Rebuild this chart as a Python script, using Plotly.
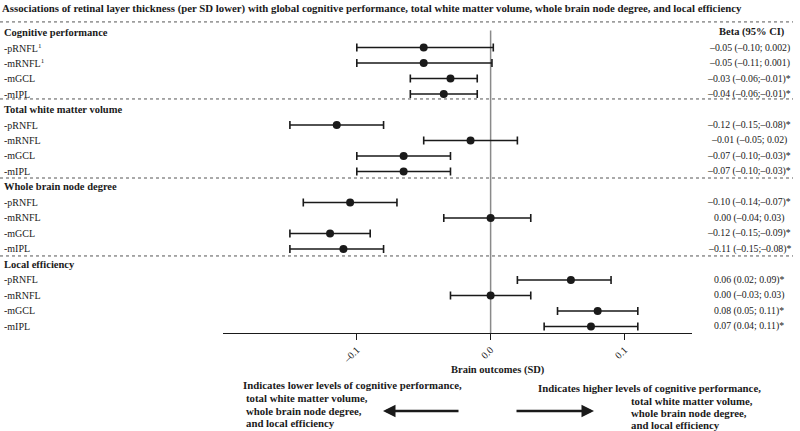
import plotly.graph_objects as go

# ── Data ────────────────────────────────────────────────────────────────
groups = ["Cognitive performance", "Total white matter volume",
          "Whole brain node degree", "Local efficiency"]
layers = ["-pRNFL<sup>1</sup>", "-mRNFL<sup>1</sup>", "-mGCL", "-mIPL",
          "-pRNFL", "-mRNFL", "-mGCL", "-mIPL",
          "-pRNFL", "-mRNFL", "-mGCL", "-mIPL",
          "-pRNFL", "-mRNFL", "-mGCL", "-mIPL"]
beta = [-0.05, -0.05, -0.03, -0.035,
        -0.115, -0.015, -0.065, -0.065,
        -0.105, 0.0, -0.12, -0.11,
        0.06, 0.0, 0.08, 0.075]
ci_lo = [-0.10, -0.10, -0.06, -0.06,
         -0.15, -0.05, -0.10, -0.10,
         -0.14, -0.035, -0.15, -0.15,
         0.02, -0.03, 0.05, 0.04]
ci_hi = [0.002, 0.001, -0.01, -0.01,
         -0.08, 0.02, -0.03, -0.03,
         -0.07, 0.03, -0.09, -0.08,
         0.09, 0.03, 0.11, 0.11]
beta_txt = ["–0.05 (–0.10; 0.002)", "–0.05 (–0.11; 0.001)",
            "–0.03 (–0.06;–0.01)*", "–0.04 (–0.06;–0.01)*",
            "–0.12 (–0.15;–0.08)*", "–0.01 (–0.05; 0.02)",
            "–0.07 (–0.10;–0.03)*", "–0.07 (–0.10;–0.03)*",
            "–0.10 (–0.14;–0.07)*", "0.00 (–0.04; 0.03)",
            "–0.12 (–0.15;–0.09)*", "–0.11 (–0.15;–0.08)*",
            "0.06 (0.02; 0.09)*", "0.00 (–0.03; 0.03)",
            "0.08 (0.05; 0.11)*", "0.07 (0.04; 0.11)*"]
tick_vals = [-0.1, 0.0, 0.1]
tick_text = ["–0.1", "0.0", "0.1"]

# row slots: each group = header + 4 rows
rows = [5 * (i // 4) + (i % 4) + 1 for i in range(len(beta))]
headers = [5 * g for g in range(len(groups))]

W, H = 800, 431
L, R, T, B = 223, 108, 22, 98
YTOP, YBOT = -0.645, 19.42


def px(x):  # pixel -> paper x
    return (x - L) / (W - L - R)


def py(y):  # pixel -> paper y
    return (H - B - y) / (H - T - B)


def slot_py(s):  # slot -> paper y
    return (YBOT - s) / (YBOT - YTOP)


SERIF = "Liberation Serif, Times New Roman, serif"
INK = "#1a1a1a"

fig = go.Figure()

fig.add_trace(go.Scatter(
    x=beta, y=rows, mode="markers",
    marker=dict(color=INK, size=8),
    error_x=dict(type="data", symmetric=False,
                 array=[h - b for h, b in zip(ci_hi, beta)],
                 arrayminus=[b - l for b, l in zip(beta, ci_lo)],
                 color=INK, thickness=1.6, width=4),
    showlegend=False, hoverinfo="skip",
))

# zero reference line
fig.add_shape(type="line", xref="x", yref="y", x0=0, x1=0, y0=-0.1, y1=YBOT,
              line=dict(color="#8a8a8a", width=1.5), layer="below")

# dashed separators
for s in [-0.65, 4.32, 9.42, 14.45]:
    fig.add_shape(type="line", xref="paper", yref="paper",
                  x0=px(0), x1=px(793), y0=slot_py(s), y1=slot_py(s),
                  line=dict(color="#555555", width=1, dash="dot"))

ann = []
for g, s in zip(groups, headers):
    ann.append(dict(text="<b>%s</b>" % g, x=px(2), y=s, xref="paper", yref="y",
                    xanchor="left", yanchor="middle", showarrow=False,
                    font=dict(size=10.5, family=SERIF, color=INK)))
for lab, s, t in zip(layers, rows, beta_txt):
    ann.append(dict(text=lab, x=px(2), y=s, xref="paper", yref="y",
                    xanchor="left", yanchor="middle", showarrow=False,
                    font=dict(size=10, family=SERIF, color=INK)))
    ann.append(dict(text=t, x=px(749), y=s, xref="paper", yref="y",
                    xanchor="center", yanchor="middle", showarrow=False,
                    font=dict(size=9.8, family=SERIF, color=INK)))
ann.append(dict(text="<b>Beta (95% CI)</b>", x=px(752), y=0, xref="paper", yref="y",
                xanchor="center", yanchor="middle", showarrow=False,
                font=dict(size=10.5, family=SERIF, color=INK)))

# title
ann.append(dict(text="<b>Associations of retinal layer thickness (per SD lower) with global "
                     "cognitive performance, total white matter volume, whole brain node "
                     "degree, and local efficiency</b>",
                x=px(0), y=py(8), xref="paper", yref="paper", xanchor="left",
                yanchor="middle", showarrow=False,
                font=dict(size=10.8, family=SERIF, color=INK)))

# axis title
ann.append(dict(text="<b>Brain outcomes (SD)</b>", x=px(498), y=py(370),
                xref="paper", yref="paper", xanchor="center", yanchor="middle",
                showarrow=False, font=dict(size=10.5, family=SERIF, color=INK)))

# direction notes
left_lines = [("Indicates lower levels of cognitive performance,", 242, 385),
              ("total white matter volume,", 245, 398),
              ("whole brain node degree,", 245, 411),
              ("and local efficiency", 245, 423)]
right_lines = [("Indicates higher levels of cognitive performance,", 537, 388),
               ("total white matter volume,", 630, 401),
               ("whole brain node degree,", 630, 413),
               ("and local efficiency", 630, 424.5)]
for txt, x, y in left_lines + right_lines:
    ann.append(dict(text="<b>%s</b>" % txt, x=px(x), y=py(y), xref="paper", yref="paper",
                    xanchor="left", yanchor="middle", showarrow=False, borderpad=0,
                    font=dict(size=10.8, family=SERIF, color=INK)))

# arrows
ann.append(dict(text="", x=px(383), y=py(411), xref="paper", yref="paper",
                ax=77, ay=0, showarrow=True, arrowhead=2, arrowsize=1,
                arrowwidth=2.5, arrowcolor=INK))
ann.append(dict(text="", x=px(594), y=py(411), xref="paper", yref="paper",
                ax=-79, ay=0, showarrow=True, arrowhead=2, arrowsize=1,
                arrowwidth=2.5, arrowcolor=INK))

fig.update_layout(
    width=W, height=H,
    margin=dict(l=L, r=R, t=T, b=B),
    paper_bgcolor="white", plot_bgcolor="white",
    xaxis=dict(range=[-0.2, 0.1505], showgrid=False, zeroline=False,
               showline=True, linecolor=INK, linewidth=1.2,
               ticks="outside", ticklen=6, tickcolor=INK,
               tickvals=tick_vals, ticktext=tick_text, tickangle=-45,
               tickfont=dict(size=10, family=SERIF, color=INK)),
    yaxis=dict(range=[YBOT, YTOP], visible=False),
    annotations=ann,
)

fig.write_html("out.html", config={"displayModeBar": False},
               post_script="document.body.style.margin='0';document.body.style.overflow='hidden';")
